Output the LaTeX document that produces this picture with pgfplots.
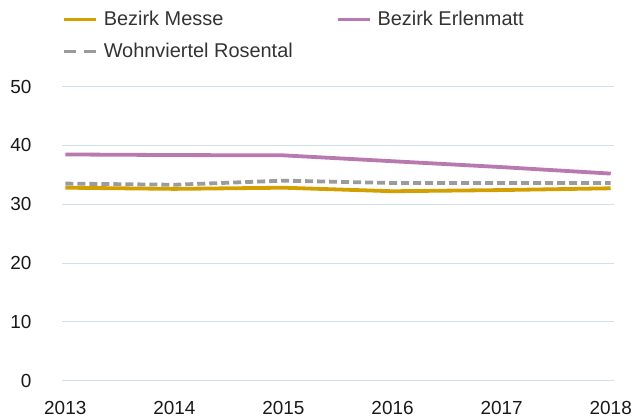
\documentclass[border=0pt]{standalone}
\usepackage{pgfplots}
\pgfplotsset{compat=1.18}
\usepackage{fontspec}
\setmainfont{Liberation Sans}
\definecolor{messe}{HTML}{D4A000}
\definecolor{erlen}{HTML}{B878B0}
\definecolor{rosen}{HTML}{9B9B9B}
\definecolor{gridc}{HTML}{CFE0E8}
\definecolor{txt}{HTML}{333333}
\begin{document}
\begin{tikzpicture}
\path[use as bounding box] (-62bp,-37.3bp) rectangle (571bp,380.7bp);
\begin{axis}[
  at={(0,0)}, anchor=origin,
  scale only axis,
  width=552bp, height=294.2bp,
  xmin=2012.97, xmax=2018.03,
  ymin=0, ymax=50,
  axis line style={draw=none},
  tick style={draw=none},
  ytick={0,10,20,30,40,50},
  xtick={2013,2014,2015,2016,2017,2018},
  ymajorgrids,
  grid style={gridc, line width=1bp},
  /pgf/number format/assume math mode=true,
  /pgf/number format/1000 sep={},
  ticklabel style={font=\fontsize{19}{22}\selectfont, text=black!90},
  xticklabel style={yshift=-17bp},
  yticklabel style={xshift=-27bp},
  legend columns=2,
  legend style={draw=none, fill=none, at={(0,1)}, anchor=north west,
    yshift=75bp,
    font=\fontsize{20}{23}\selectfont, text=txt,
    /tikz/every odd column/.append style={column sep=6bp},
    nodes={inner sep=0pt},
    row sep=16bp, inner sep=0pt, outer sep=0pt},
  legend cell align=left,
  legend image code/.code={\draw[#1] (0bp,0bp) -- (32bp,0bp);},
]
\addplot[messe, line width=3.8bp] coordinates {(2013,32.8) (2014,32.6) (2015,32.8) (2016,32.2) (2017,32.4) (2018,32.7)};
\addlegendentry{\makebox[232bp][l]{Bezirk Messe}}
\addplot[erlen, line width=3.8bp] coordinates {(2013,38.45) (2014,38.35) (2015,38.3) (2016,37.3) (2017,36.3) (2018,35.2)};
\addlegendentry{Bezirk Erlenmatt}
\addplot[rosen, line width=3.8bp, dash pattern=on 8bp off 4bp, legend image post style={dash pattern=on 12bp off 8bp}] coordinates {(2013,33.5) (2014,33.3) (2015,34.0) (2016,33.6) (2017,33.6) (2018,33.6)};
\addlegendentry{Wohnviertel Rosental}
\end{axis}
\end{tikzpicture}
\end{document}
